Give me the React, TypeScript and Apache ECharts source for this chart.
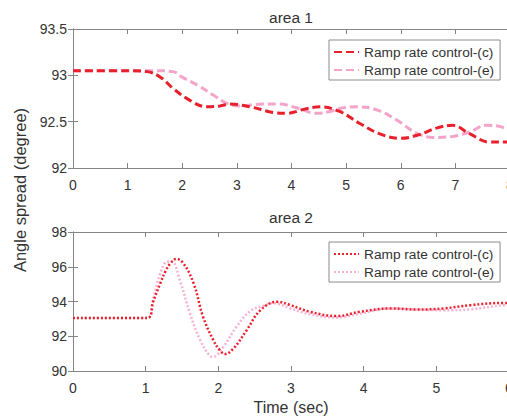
import React, { useEffect, useRef } from "react";
import * as echarts from "echarts";

// ---- data ----
const legendLabels: Record<string, string> = {
  c1: "Ramp rate control-(c)",
  e1: "Ramp rate control-(e)",
  c2: "Ramp rate control-(c)",
  e2: "Ramp rate control-(e)",
};

const area1TimeC = [0, 1.0, 1.35, 1.6, 1.83, 2.14, 2.45, 2.69, 2.87, 3.24, 3.66, 3.9, 4.27, 4.52, 4.88, 5.25, 5.61, 5.98, 6.34, 6.65, 6.95, 7.26, 7.62, 7.93, 8.0];
const area1ValC = [93.05, 93.05, 93.04, 92.98, 92.86, 92.73, 92.66, 92.67, 92.69, 92.66, 92.6, 92.59, 92.64, 92.66, 92.61, 92.48, 92.37, 92.32, 92.36, 92.43, 92.46, 92.37, 92.28, 92.28, 92.29];

const area1TimeE = [0, 1.5, 1.83, 2.0, 2.32, 2.56, 2.81, 3.05, 3.47, 3.78, 4.09, 4.46, 4.7, 4.95, 5.2, 5.55, 5.92, 6.28, 6.59, 6.95, 7.26, 7.57, 7.8, 8.0];
const area1ValE = [93.05, 93.05, 93.04, 92.98, 92.88, 92.79, 92.7, 92.67, 92.69, 92.69, 92.65, 92.59, 92.61, 92.65, 92.66, 92.63, 92.52, 92.38, 92.33, 92.34, 92.39, 92.46, 92.45, 92.4];

const area2TimeC = [0, 1.02, 1.1, 1.2, 1.28, 1.34, 1.42, 1.52, 1.66, 1.79, 1.93, 2.02, 2.09, 2.21, 2.39, 2.58, 2.81, 2.99, 3.26, 3.63, 3.95, 4.37, 4.73, 5.1, 5.47, 5.93, 6.0];
const area2ValC = [93.05, 93.05, 93.95, 95.04, 95.8, 96.19, 96.45, 96.19, 95.04, 93.12, 91.78, 91.2, 90.98, 91.3, 92.35, 93.5, 93.98, 93.79, 93.41, 93.16, 93.41, 93.6, 93.54, 93.6, 93.79, 93.92, 93.9];

const area2TimeE = [0, 1.02, 1.11, 1.2, 1.29, 1.36, 1.47, 1.61, 1.75, 1.89, 1.93, 2.07, 2.25, 2.44, 2.62, 2.76, 2.99, 3.26, 3.63, 3.95, 4.37, 4.73, 5.1, 5.47, 5.93, 6.0];
const area2ValE = [93.05, 93.05, 94.27, 95.6, 96.28, 96.3, 95.23, 93.31, 91.78, 90.86, 90.82, 91.4, 92.55, 93.45, 93.75, 93.9, 93.6, 93.27, 93.08, 93.3, 93.6, 93.54, 93.5, 93.55, 93.79, 93.8];

const zip = (xs: number[], ys: number[]) => xs.map((x, i) => [x, ys[i]]);

const RED = "#e8202c";
const PINK = "#f4a3c9";
const PINK2 = "#f7b2d2";
const AXIS = "#858585";
const TEXT = "#333333";
const FONT = "Liberation Sans, Arial, sans-serif";

export default function App() {
  const ref = useRef<HTMLDivElement>(null);
  useEffect(() => {
    document.body.style.margin = "0";
    if (!ref.current) return;
    const chart = echarts.init(ref.current, undefined, { renderer: "svg" });

    const axisLine = { show: true, lineStyle: { color: AXIS, width: 1 } };
    const tick = { show: true, inside: true, length: 5, lineStyle: { color: AXIS } };
    const label = { color: TEXT, fontSize: 14, fontFamily: FONT };

    const xBottom = (grid: number, max: number) => ({
      type: "value", gridIndex: grid, min: 0, max, interval: 1, position: "bottom",
      axisLine, axisTick: tick, splitLine: { show: false },
      axisLabel: { ...label, margin: 10, showMaxLabel: true, hideOverlap: false },
    });
    const xTop = (grid: number, max: number) => ({
      type: "value", gridIndex: grid, min: 0, max, interval: 1, position: "top",
      axisLine, axisTick: tick, splitLine: { show: false }, axisLabel: { show: false },
    });
    const yLeft = (grid: number, min: number, max: number, interval: number) => ({
      type: "value", gridIndex: grid, min, max, interval, position: "left",
      axisLine, axisTick: tick, splitLine: { show: false },
      axisLabel: { ...label, margin: 6 },
    });
    const yRight = (grid: number, min: number, max: number, interval: number) => ({
      type: "value", gridIndex: grid, min, max, interval, position: "right",
      axisLine, axisTick: tick, splitLine: { show: false }, axisLabel: { show: false },
    });

    const legendCommon = {
      orient: "vertical",
      left: 329,
      itemWidth: 25,
      itemHeight: 14,
      itemGap: 4,
      padding: [5, 6, 3, 4],
      borderColor: "#8a8a8a",
      borderWidth: 1,
      backgroundColor: "#ffffff",
      itemStyle: { opacity: 0, borderWidth: 0 },
      textStyle: { color: TEXT, fontSize: 13.7, fontFamily: FONT },
      formatter: (name: string) => legendLabels[name],
      selectedMode: false,
    };

    const option: any = {
      animation: false,
      backgroundColor: "#ffffff",
      grid: [
        { left: 73, top: 29, width: 437, height: 139, containLabel: false, outerBoundsMode: "none" },
        { left: 73, top: 232, width: 436, height: 139, containLabel: false, outerBoundsMode: "none" },
      ],
      xAxis: [xBottom(0, 8), xTop(0, 8), { ...xBottom(1, 6), name: "Time (sec)", nameLocation: "middle", nameGap: 28, nameTextStyle: { color: TEXT, fontSize: 16, fontFamily: FONT } }, xTop(1, 6)],
      yAxis: [yLeft(0, 92, 93.5, 0.5), yRight(0, 92, 93.5, 0.5), yLeft(1, 90, 98, 2), yRight(1, 90, 98, 2)],
      legend: [
        { ...legendCommon, top: 40, data: ["c1", "e1"] },
        { ...legendCommon, top: 242, data: ["c2", "e2"] },
      ],
      graphic: [
        { type: "text", x: 291, y: 17, style: { text: "area 1", fill: TEXT, fontSize: 15.5, fontFamily: FONT, align: "center", verticalAlign: "middle" } },
        { type: "text", x: 291, y: 217, style: { text: "area 2", fill: TEXT, fontSize: 15.5, fontFamily: FONT, align: "center", verticalAlign: "middle" } },
        { type: "text", x: 20, y: 190, rotation: Math.PI / 2, style: { text: "Angle spread (degree)", fill: TEXT, fontSize: 16.5, fontFamily: FONT, align: "center", verticalAlign: "middle" } },
      ],
      series: [
        { name: "e1", type: "line", xAxisIndex: 0, yAxisIndex: 0, data: zip(area1TimeE, area1ValE), smooth: 0.4, showSymbol: false, symbol: "none", lineStyle: { color: PINK, width: 3, type: [8, 4] }, itemStyle: { color: PINK }, z: 2 },
        { name: "c1", type: "line", xAxisIndex: 0, yAxisIndex: 0, data: zip(area1TimeC, area1ValC), smooth: 0.4, showSymbol: false, symbol: "none", lineStyle: { color: RED, width: 3, type: [8, 4] }, itemStyle: { color: RED }, z: 3 },
        { name: "e2", type: "line", xAxisIndex: 2, yAxisIndex: 2, data: zip(area2TimeE, area2ValE), smooth: 0.4, showSymbol: false, symbol: "none", lineStyle: { color: PINK2, width: 2.5, type: [2, 2] }, itemStyle: { color: PINK2 }, z: 2 },
        { name: "c2", type: "line", xAxisIndex: 2, yAxisIndex: 2, data: zip(area2TimeC, area2ValC), smooth: 0.4, showSymbol: false, symbol: "none", lineStyle: { color: RED, width: 2.5, type: [2, 2] }, itemStyle: { color: RED }, z: 3 },
      ],
    };
    chart.setOption(option);
    return () => chart.dispose();
  }, []);
  return <div ref={ref} style={{ width: 507, height: 419, overflow: "hidden" }} />;
}
